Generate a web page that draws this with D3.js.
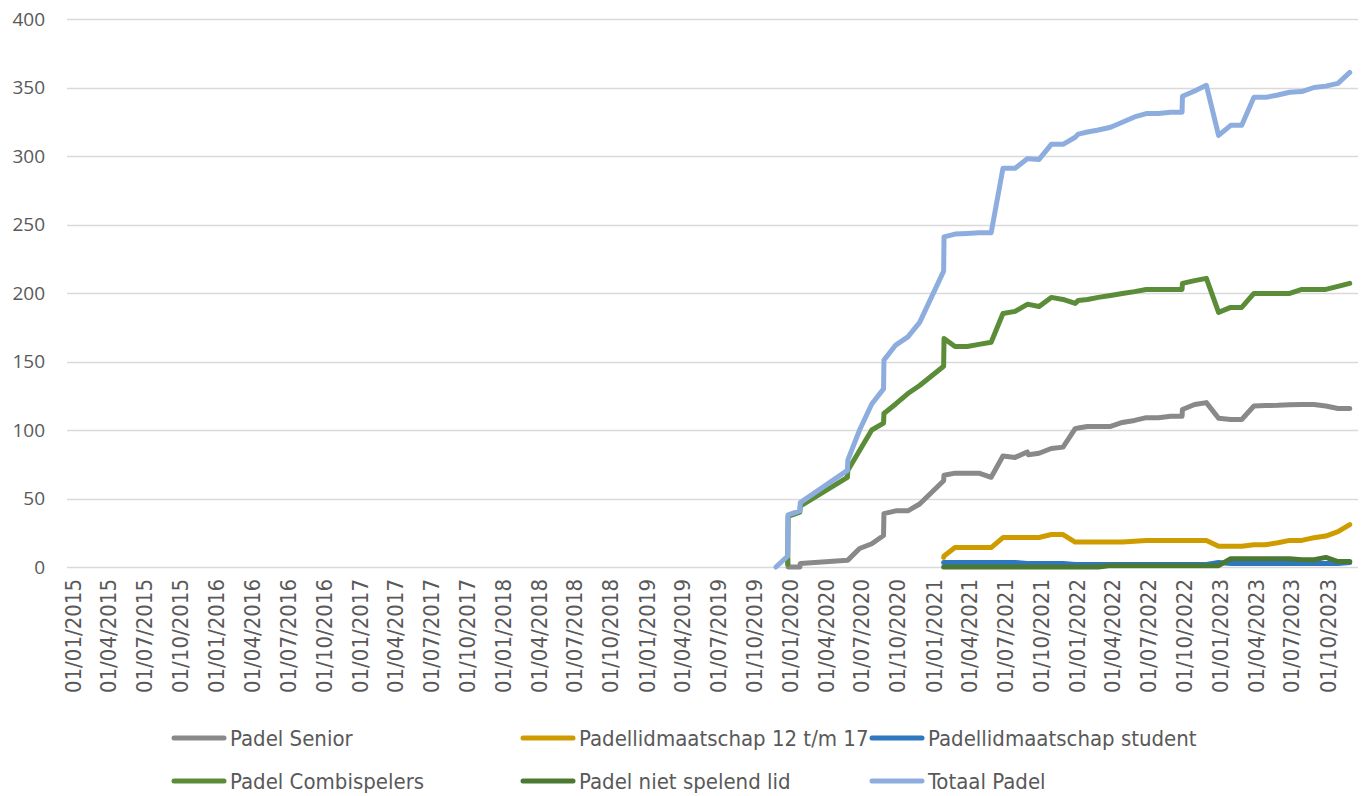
<!DOCTYPE html>
<html>
<head>
<meta charset="utf-8">
<script src="https://cdn.jsdelivr.net/npm/d3@7"></script>
<style>
	body { margin: 0; background: #fff; }
	text { fill: #595959; }
</style>
</head>
<body>
<div id="graph"></div>
<script>
// Padel leden per maand

var dates = ["2019-12-11", "2020-01-10", "2020-01-11", "2020-02-10", "2020-02-11", "2020-06-10", "2020-06-11",
	"2020-07-11", "2020-08-11", "2020-09-10", "2020-09-11", "2020-10-11", "2020-11-11", "2020-12-11",
	"2021-02-10", "2021-02-11", "2021-03-11", "2021-04-11", "2021-05-11", "2021-06-11", "2021-07-11",
	"2021-08-11", "2021-09-11", "2021-09-14", "2021-10-11", "2021-11-11", "2021-12-11", "2022-01-11",
	"2022-01-19", "2022-02-11", "2022-03-11", "2022-04-11", "2022-05-11", "2022-06-11", "2022-07-11",
	"2022-08-11", "2022-09-11", "2022-10-10", "2022-10-11", "2022-11-11", "2022-12-11", "2023-01-11",
	"2023-02-11", "2023-03-11", "2023-04-11", "2023-05-11", "2023-06-11", "2023-07-11", "2023-08-11",
	"2023-09-11", "2023-10-11", "2023-11-11", "2023-12-11"];

var senior = [null, 6, 0, 0, 2.6, 5, 5, 13.5, 17, 23, 39, 41, 41, 46, 63, 67, 68.5, 68.5, 68.5, 65.5, 81,
	80, 84, 82, 83, 86.5, 87.5, 101, 101.5, 102.6, 102.6, 102.6, 105.5, 107, 109, 109, 110, 110, 115,
	118.6, 120, 108.6, 107.7, 107.7, 117.5, 117.8, 118, 118.5, 118.6, 118.6, 117.5, 115.7, 115.7];

var jeugd = [null, null, null, null, null, null, null, null, null, null, null, null, null, null,
	7, 8, 14.2, 14.2, 14.2, 14.2, 21.5, 21.5, 21.5, 21.5, 21.5, 23.7, 23.7, 18.2, 18.2, 18.2, 18.2,
	18.2, 18.2, 18.8, 19.4, 19.4, 19.4, 19.4, 19.4, 19.4, 19.4, 15.2, 15.2, 15.2, 16.2, 16.2, 17.7,
	19.4, 19.4, 21.4, 22.6, 25.8, 31];

var student = [null, null, null, null, null, null, null, null, null, null, null, null, null, null,
	3.3, 3.3, 3.3, 3.3, 3.3, 3.3, 3.3, 3.3, 2.5, 2.5, 2.5, 2.5, 2.5, 1.8, 1.8, 1.8, 1.8, 1.8, 1.8,
	1.8, 1.8, 1.8, 1.8, 1.8, 1.8, 1.8, 1.8, 3.3, 2.6, 2.6, 2.6, 2.6, 2.6, 2.6, 2.6, 2.6, 2.6, 2.6, 3.3];

var combi = [null, 2, 37, 40, 44.5, 65.5, 70.5, 85, 100, 105, 112, 119, 126.6, 132.5, 146.5, 166.8,
	161, 161, 162.5, 164, 185, 186.6, 191.7, 191.7, 190.2, 196.8, 195.3, 192.4, 194.6, 195.3, 196.8,
	198.2, 199.6, 201, 202.6, 202.6, 202.6, 202.6, 207, 209, 210.7, 185.9, 189.5, 189.5, 199.7, 199.7,
	199.7, 199.7, 202.6, 202.6, 202.6, 204.8, 207];

var nietSpelend = [null, null, null, null, null, null, null, null, null, null, null, null, null, null,
	0, 0, 0, 0, 0, 0, 0, 0, 0, 0, 0, 0, 0, 0, 0, 0, 0, 1, 1, 1, 1, 1, 1, 1, 1, 1, 1, 1,
	6, 6, 6, 6, 6, 6, 5.3, 5.3, 7, 4, 4];

var totaal = [0, 8, 38, 41, 47, 70.5, 78, 100, 119, 130, 151, 162, 168, 178.6, 216, 241, 243, 243.5,
	244, 244, 291, 291, 298, 298, 297.5, 308.5, 308.5, 313.7, 316, 317.5, 319, 321, 324.6, 328.5, 331,
	331, 332, 332, 343.6, 347.5, 351.6, 315, 322.4, 322.4, 342.8, 342.8, 344.5, 346.5, 347, 350, 351,
	353, 361];

var seriesNames = ["Padel Senior", "Padellidmaatschap 12 t/m 17", "Padellidmaatschap student",
	"Padel Combispelers", "Padel niet spelend lid", "Totaal Padel"];
var seriesValues = [senior, jeugd, student, combi, nietSpelend, totaal];
var seriesColors = ["#898989", "#cf9c00", "#2e78c0", "#5b8c37", "#4b7932", "#8eaddf"];

var axisStart = "2015-01-01";
var axisEnd = "2024-01-01";
var yTicks = [0, 50, 100, 150, 200, 250, 300, 350, 400];

var margin = {top: 19, right: 14, bottom: 229, left: 67};
var width = 1372 - margin.left - margin.right;
var height = 796 - margin.top - margin.bottom;
var parse = d3.timeParse("%Y-%m-%d");
var labelFont = "'Liberation Sans Narrow', 'DejaVu Sans Condensed', sans-serif";

var scale_time = d3.scaleTime()
	.range([0, width])
	.domain([parse(axisStart), parse(axisEnd)]);
var scale_val = d3.scaleLinear()
	.range([height, 0])
	.domain([0, 400]);

var svg = d3.select("#graph").append("svg")
	.attr("width", 1372)
	.attr("height", 796)
	.append("g")
	.attr("transform", "translate(" + margin.left + "," + margin.top + ")");

// gridlines
svg.selectAll("line.grid")
	.data(yTicks)
	.enter()
	.append("line")
	.attr("class", "grid")
	.attr("x1", 0)
	.attr("x2", width)
	.attr("y1", function(d) { return Math.round(scale_val(d)) + 0.5; })
	.attr("y2", function(d) { return Math.round(scale_val(d)) + 0.5; })
	.style("stroke", "#d9d9d9")
	.style("stroke-width", 1.3);

// y axis labels
var yAxis = svg.append("g")
	.call(d3.axisLeft(scale_val).tickValues(yTicks).tickSize(0).tickPadding(22));
yAxis.select(".domain").remove();
yAxis.selectAll("text")
	.style("font-family", "'Open Sans', sans-serif")
	.style("font-size", "19px")
	.style("fill", "#595959");

// x axis labels, every 3 months
var quarterTicks = d3.timeMonth.every(3).range(parse(axisStart), parse("2023-10-02"));
var fmt = d3.timeFormat("%d/%m/%Y");
svg.append("g")
	.selectAll("text")
	.data(quarterTicks)
	.enter()
	.append("text")
	.attr("transform", function(d) {
		return "translate(" + (scale_time(d) + 6) + "," + (height + 12) + ") rotate(-90)";
	})
	.attr("dy", "0.35em")
	.style("text-anchor", "end")
	.style("font-family", labelFont)
	.style("font-size", "22px")
	.text(function(d) { return fmt(d); });

// series lines
var line = d3.line()
	.defined(function(d) { return d != null; })
	.x(function(d, i) { return scale_time(parse(dates[i])); })
	.y(function(d) { return scale_val(d); });

seriesValues.forEach(function(vals, k) {
	svg.append("path")
		.attr("fill", "none")
		.attr("stroke", seriesColors[k])
		.attr("stroke-width", 5)
		.attr("stroke-linecap", "round")
		.attr("stroke-linejoin", "round")
		.attr("d", line(vals));
});

// legend
var legend = d3.select("svg").append("g");
seriesNames.forEach(function(name, k) {
	var lx = 172 + (k % 3) * 349;
	var ly = 738 + Math.floor(k / 3) * 43;
	legend.append("line")
		.attr("x1", lx + 2)
		.attr("x2", lx + 52)
		.attr("y1", ly)
		.attr("y2", ly)
		.attr("stroke", seriesColors[k])
		.attr("stroke-width", 5)
		.attr("stroke-linecap", "round");
	legend.append("text")
		.attr("x", lx + 58)
		.attr("y", ly)
		.attr("dy", "0.35em")
		.style("font-family", labelFont)
		.style("font-size", "22px")
		.text(name);
});
</script>
</body>
</html>
